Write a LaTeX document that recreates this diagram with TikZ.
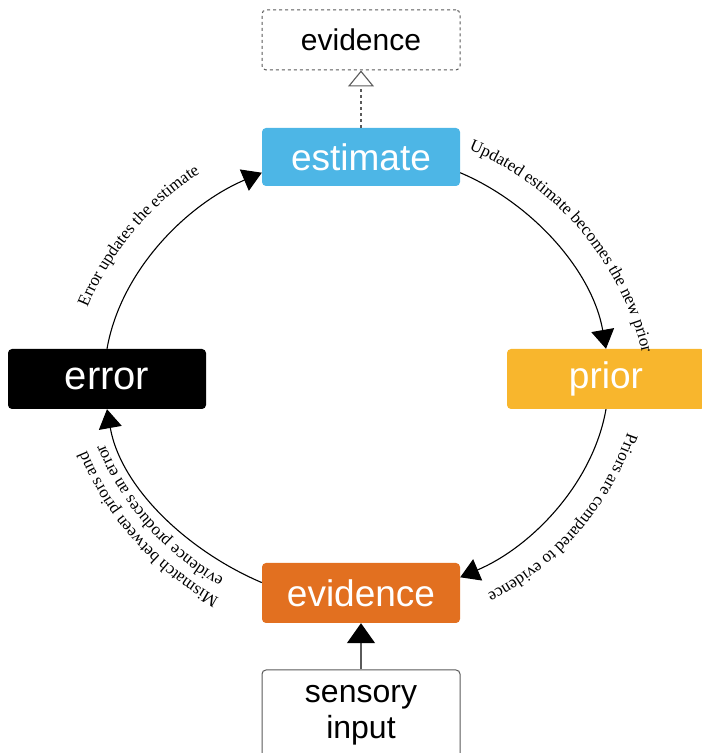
\documentclass[tikz,border=0pt]{standalone}
\usepackage{fontspec}
\setmainfont{Liberation Serif}
\newfontfamily\boxfont{Liberation Sans}
\usepackage{xcolor}
\definecolor{estblue}{RGB}{77,182,230}
\definecolor{priorgold}{RGB}{248,182,45}
\definecolor{evorange}{RGB}{226,112,32}
\definecolor{boxgray}{RGB}{90,90,90}
\usetikzlibrary{arrows.meta, positioning, decorations.text}
\newcommand\lblfont{\fontsize{17}{20}\selectfont}

\begin{document}
\begin{tikzpicture}[x=1pt, y=1pt,
  stage/.style={rectangle, rounded corners=4pt, minimum width=198pt, minimum height=60pt,
    inner sep=0pt, text=white, font=\boxfont\fontsize{37}{40}\selectfont},
  plainbox/.style={stage, draw=boxgray, line width=1pt, fill=white, text=black},
  cyc/.style={-{Triangle[length=19pt, width=23pt]}, line width=1.1pt, looseness=0.88},
  lbl/.style={decorate, decoration={text along path, text align=center,
    text={|\lblfont|#1}}}]
  \useasboundingbox (0,0) rectangle (702,753);

  % Boxes
  \node[stage, fill=estblue, minimum height=58pt] (estimate) at (361,596) {estimate};
  \node[plainbox, dashed, font=\boxfont\fontsize{30}{34}\selectfont] (evtop) at (361,713) {evidence};
  \node[stage, fill=black, font=\boxfont\fontsize{40}{44}\selectfont] (error) at (107,374) {error};
  \node[stage, fill=priorgold] (prior) at (606,374) {prior};
  \node[stage, fill=evorange] (evidence) at (361,160) {evidence};
  \node[plainbox, minimum height=90pt, align=center,
    font=\boxfont\fontsize{32}{36}\selectfont] (sensory) at (361,38) {sensory\\input};

  % Side arrows
  \draw[boxgray, dashed, line width=1.1pt, -{Triangle[open, length=16pt, width=26pt]}]
    (estimate) -- (evtop);
  \draw[boxgray, line width=1.4pt, -{Triangle[length=20pt, width=28pt, color=black]}]
    (sensory) -- (evidence);

  % Cycle
  \draw[cyc] (estimate.-9) to[out=-23, in=100] (prior.north);
  \draw[cyc] (prior.south) to[out=-100, in=23] (evidence.9);
  \draw[cyc] (evidence.174) to[out=157, in=-80] (error.south);
  \draw[cyc] (error.north) to[out=80, in=203] (estimate.189);

  % Labels on the cycle
  \coordinate (ctop) at (358,333);
  \coordinate (cbot) at (358,413);
  \path[lbl={Updated estimate becomes the new prior}]
    ([shift={(ctop)}]73:292) arc[start angle=73, end angle=8, radius=292];
  \path[lbl={Priors are compared to evidence}]
    ([shift={(cbot)}]-16:285) arc[start angle=-16, end angle=-66, radius=285];
  \path[lbl={evidence produces an error}]
    ([shift={(cbot)}]246:274) arc[start angle=246, end angle=197, radius=274];
  \path[lbl={Mismatch between priors and}]
    ([shift={(cbot)}]246:293) arc[start angle=246, end angle=198, radius=293];
  \path[lbl={Error updates the estimate}]
    ([shift={(ctop)}]160:293) arc[start angle=160, end angle=120, radius=293];
\end{tikzpicture}
\end{document}
